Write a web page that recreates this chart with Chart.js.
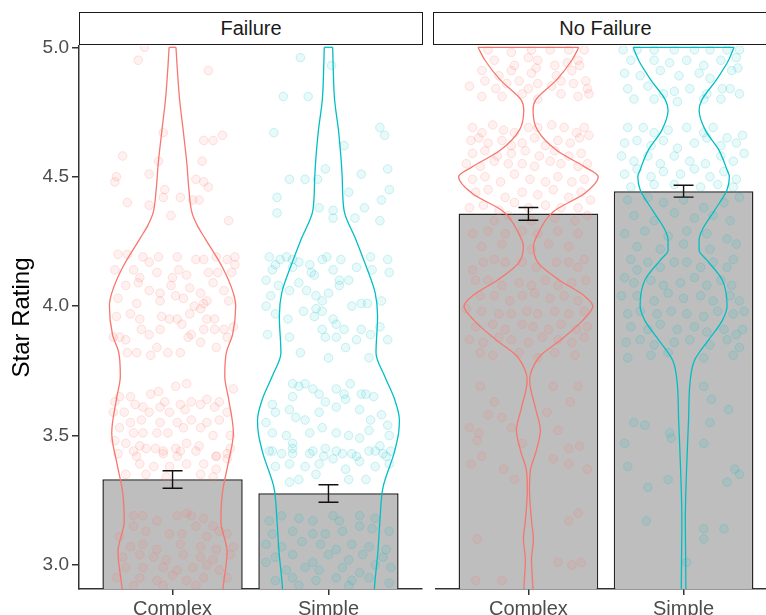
<!DOCTYPE html>
<html>
<head>
<meta charset="utf-8">
<title>Star Rating by failure</title>
<script src="https://cdn.jsdelivr.net/npm/chart.js@4.4.1/dist/chart.umd.min.js"></script>
<style>
  html, body { margin: 0; padding: 0; background: #fff; overflow: hidden; }
  body { width: 766px; height: 615px; position: relative; font-family: "Liberation Sans", Arial, Helvetica, sans-serif; }
  canvas { position: absolute; top: 0; }
  #leftChart { left: 0; }
  #rightChart { left: 430px; }
  .strip {
    position: absolute; top: 12px; height: 33px; box-sizing: border-box;
    border: 1.5px solid #1a1a1a; background: #fff;
    display: flex; align-items: center; justify-content: center;
    font-size: 20px; color: #1a1a1a;
  }
</style>
</head>
<body>
<canvas id="leftChart" width="430" height="615"></canvas>
<canvas id="rightChart" width="352" height="615"></canvas>
<div class="strip" id="stripLeft" style="left:79px;width:344px"></div>
<div class="strip" id="stripRight" style="left:433px;width:345px"></div>
<script>
"use strict";

const categories = ["Complex", "Simple"];
const panels = ["Failure", "No Failure"];
const yTicks = [3.0, 3.5, 4.0, 4.5, 5.0];

// mean star rating per group, with error bar ends
const failureMean = [3.331, 3.277];
const failureLow = [3.296, 3.242];
const failureHigh = [3.364, 3.310];
const noFailureMean = [4.358, 4.444];
const noFailureLow = [4.332, 4.421];
const noFailureHigh = [4.381, 4.467];

// violin outlines: rating level and half width (category units)
const violinFailureComplexY = [2.85, 2.94, 3.05, 3.17, 3.28, 3.39, 3.51, 3.64, 3.73, 3.82, 3.89, 4.00, 4.05, 4.15, 4.26, 4.31, 4.36, 4.45, 4.55, 4.67, 4.80, 4.93, 5.00];
const violinFailureComplexW = [0.31, 0.33, 0.35, 0.31, 0.32, 0.356, 0.39, 0.36, 0.335, 0.345, 0.385, 0.405, 0.39, 0.32, 0.21, 0.16, 0.125, 0.105, 0.092, 0.07, 0.045, 0.029, 0.022];
const violinFailureSimpleY = [2.85, 2.92, 3.05, 3.17, 3.30, 3.43, 3.51, 3.56, 3.64, 3.73, 3.82, 3.96, 4.05, 4.15, 4.26, 4.37, 4.50, 4.67, 4.80, 4.93, 5.00];
const violinFailureSimpleW = [0.29, 0.296, 0.317, 0.33, 0.35, 0.42, 0.45, 0.455, 0.424, 0.36, 0.305, 0.315, 0.30, 0.244, 0.174, 0.10, 0.088, 0.066, 0.039, 0.03, 0.027];
const violinNoFailureComplexY = [2.85, 2.906, 3.02, 3.10, 3.17, 3.29, 3.366, 3.44, 3.52, 3.60, 3.714, 3.75, 3.81, 3.87, 3.945, 4.00, 4.04, 4.10, 4.166, 4.23, 4.282, 4.365, 4.436, 4.50, 4.537, 4.60, 4.68, 4.757, 4.796, 4.873, 4.95, 5.00];
const violinNoFailureComplexW = [0.03, 0.029, 0.02, 0.032, 0.02, 0.007, 0.013, 0.05, 0.077, 0.048, 0.008, 0.02, 0.08, 0.21, 0.35, 0.415, 0.36, 0.20, 0.064, 0.032, 0.064, 0.16, 0.363, 0.45, 0.365, 0.186, 0.058, 0.03, 0.046, 0.18, 0.28, 0.325];
const violinNoFailureSimpleY = [2.85, 2.906, 3.17, 3.366, 3.56, 3.714, 3.79, 3.869, 3.945, 4.00, 4.10, 4.178, 4.216, 4.255, 4.294, 4.37, 4.45, 4.50, 4.526, 4.60, 4.68, 4.757, 4.796, 4.873, 4.95, 5.00];
const violinNoFailureSimpleW = [0.015, 0.015, 0.011, 0.019, 0.032, 0.043, 0.07, 0.16, 0.25, 0.28, 0.25, 0.15, 0.10, 0.10, 0.12, 0.20, 0.28, 0.295, 0.28, 0.23, 0.14, 0.10, 0.117, 0.21, 0.29, 0.325];

// individual ratings as [jitter, rating]
const pointsFailureComplex = [
  [-0.18,5.00],[-0.22,4.95],[0.23,4.91],
  [-0.06,4.67],[0.20,4.64],[0.26,4.64],[0.32,4.66],[-0.32,4.58],[-0.15,4.51],[0.19,4.56],[-0.09,4.56],[-0.37,4.48],[-0.36,4.50],[0.15,4.49],[0.20,4.48],[0.23,4.46],[-0.05,4.45],[-0.06,4.42],[-0.29,4.40],[0.05,4.42],[-0.15,4.39],[0.13,4.41],[0.17,4.41],[-0.01,4.35],[0.36,4.33],
  [-0.35,4.20],[-0.29,4.20],[-0.19,4.19],[-0.15,4.17],[-0.09,4.19],[0.03,4.19],[0.15,4.18],[0.20,4.18],[0.28,4.19],[0.35,4.18],[0.40,4.19],[0.40,4.16],[-0.37,4.14],[-0.25,4.14],[-0.21,4.11],[-0.10,4.13],[0.00,4.11],[0.04,4.14],[0.09,4.12],[0.23,4.13],[0.29,4.13],[0.38,4.13],
  [-0.30,4.08],[-0.22,4.09],[-0.15,4.06],[-0.08,4.05],[-0.01,4.08],[0.02,4.04],[0.11,4.07],[0.18,4.05],[0.22,4.02],[0.26,4.09],[0.33,4.06],[-0.35,4.03],[-0.23,4.01],[-0.08,4.02],[0.07,4.03],[0.14,4.00],[0.20,4.01],[0.36,4.02],
  [-0.27,3.97],[-0.21,3.95],[-0.07,3.96],[-0.02,3.95],[0.03,3.95],[0.11,3.97],[0.18,3.99],[0.22,3.95],[0.27,3.95],[0.33,3.91],[0.39,3.92],[-0.36,3.96],[-0.20,3.91],[-0.15,3.89],[-0.08,3.91],[0.06,3.93],[0.12,3.89],[0.20,3.91],[0.27,3.91],
  [-0.34,3.88],[-0.38,3.88],[-0.30,3.87],[-0.10,3.84],[-0.03,3.82],[0.05,3.82],[0.18,3.86],[0.28,3.84],[-0.29,3.82],[-0.23,3.82],[-0.14,3.81],[0.35,3.88],[0.10,3.88],
  [0.02,3.69],[0.09,3.70],[-0.14,3.66],[-0.09,3.67],[-0.34,3.65],[-0.27,3.65],[-0.37,3.63],[-0.05,3.63],[0.12,3.63],[0.22,3.64],[0.30,3.63],[0.39,3.68],[-0.24,3.62],[-0.19,3.61],[-0.08,3.61],[0.05,3.62],[0.18,3.62],[0.27,3.61],[0.35,3.59],[-0.38,3.59],[-0.31,3.59],[-0.15,3.59],[-0.02,3.59],[0.08,3.60],
  [-0.27,3.55],[-0.20,3.56],[-0.34,3.53],[-0.08,3.55],[0.03,3.55],[0.12,3.56],[0.22,3.55],[0.30,3.56],[-0.25,3.51],[-0.19,3.51],[-0.10,3.51],[-0.03,3.51],[0.07,3.53],[0.18,3.53],[0.26,3.50],[0.37,3.50],
  [-0.37,3.48],[-0.30,3.47],[-0.21,3.46],[-0.11,3.45],[-0.06,3.44],[0.02,3.45],[0.09,3.47],[0.17,3.46],[0.28,3.42],[0.35,3.43],[-0.35,3.43],[-0.23,3.42],[0.03,3.42],
  [-0.25,3.44],[-0.17,3.45],[-0.06,3.43],[0.05,3.44],[0.15,3.44],[0.28,3.42],[0.37,3.45],[-0.21,3.39],[-0.12,3.38],[-0.02,3.38],[0.09,3.39],[0.20,3.39],[0.28,3.37],[0.35,3.41],[-0.30,3.35],[-0.17,3.35],[-0.04,3.34],[0.18,3.35],[0.26,3.34],
  [-0.25,3.19],[-0.19,3.19],[-0.10,3.17],[0.03,3.19],[0.09,3.20],[0.12,3.19],[0.20,3.18],[0.26,3.15],[0.30,3.13],[-0.34,3.11],[-0.25,3.15],[-0.17,3.13],[-0.02,3.12],[0.06,3.12],[0.15,3.15],[0.22,3.11],[0.35,3.12],
  [-0.27,3.07],[-0.19,3.08],[-0.10,3.06],[0.05,3.08],[0.18,3.07],[0.28,3.06],[0.39,3.07],[-0.32,3.03],[-0.21,3.04],[-0.12,3.03],[-0.04,3.02],[0.07,3.04],[0.18,3.03],[0.26,3.02],[0.37,3.04],
  [-0.30,2.99],[-0.19,2.99],[-0.06,2.99],[0.03,2.98],[0.13,2.99],[0.22,3.00],[0.30,2.98],[-0.36,2.95],[-0.21,2.95],[-0.10,2.94],[0.00,2.96],[0.09,2.94],[0.20,2.95],[0.35,2.95],[-0.25,2.92],[-0.06,2.92],[0.15,2.92]
];
const pointsFailureSimple = [
  [-0.18,4.96],[0.02,4.93],[-0.29,4.81],[-0.13,4.81],
  [-0.35,4.67],[0.10,4.62],[0.33,4.69],[0.36,4.66],[-0.25,4.49],[-0.15,4.49],[-0.07,4.49],[-0.02,4.53],[0.21,4.51],[0.38,4.53],[-0.33,4.42],[-0.33,4.36],[-0.06,4.38],[0.03,4.37],[0.03,4.34],[0.13,4.44],[0.17,4.34],[0.23,4.38],[0.34,4.41],[0.39,4.45],[0.33,4.33],
  [-0.38,4.19],[-0.34,4.16],[-0.31,4.18],[-0.27,4.19],[-0.23,4.18],[-0.19,4.17],[-0.12,4.16],[-0.04,4.18],[-0.01,4.19],[0.08,4.18],[0.18,4.15],[0.27,4.19],[0.38,4.18],[-0.36,4.14],[-0.23,4.15],[-0.11,4.13],[-0.09,4.12],[0.03,4.14],[0.07,4.10],[0.13,4.10],[0.28,4.14],[0.39,4.13],
  [-0.40,4.10],[-0.37,4.04],[-0.32,4.08],[-0.25,4.06],[-0.19,4.09],[-0.14,4.06],[-0.08,4.04],[-0.04,4.02],[0.00,4.05],[0.07,4.08],[0.15,4.00],[0.21,4.01],[0.25,4.01],[0.34,4.02],
  [-0.40,4.00],[-0.34,3.97],[-0.26,3.95],[-0.16,3.98],[-0.08,3.99],[-0.04,3.98],[0.03,3.95],[0.05,3.93],[0.10,3.91],[0.21,3.91],[0.27,3.89],[0.33,3.92],[0.38,3.87],
  [-0.39,3.89],[-0.25,3.88],[-0.18,3.82],[-0.09,3.96],[-0.04,3.91],[-0.02,3.88],[0.00,3.80],[0.05,3.88],[0.11,3.84],[0.18,3.87],[0.26,3.80],
  [-0.23,3.70],[-0.19,3.69],[-0.15,3.70],[-0.06,3.66],[-0.02,3.63],[0.05,3.68],[0.10,3.66],[0.14,3.70],[0.21,3.66],[0.24,3.66],[0.29,3.65],[0.34,3.58],[0.38,3.54],
  [-0.36,3.62],[-0.23,3.65],[-0.10,3.68],[-0.40,3.55],[-0.34,3.59],[-0.25,3.60],[-0.21,3.57],[-0.15,3.56],[-0.06,3.59],[0.05,3.61],[0.11,3.64],[0.20,3.60],[0.27,3.56],
  [-0.36,3.51],[-0.27,3.50],[-0.23,3.47],[-0.12,3.51],[-0.04,3.53],[0.05,3.51],[0.13,3.50],[0.20,3.49],[0.26,3.52],[0.33,3.46],[0.39,3.50],
  [-0.36,3.44],[-0.23,3.43],[-0.10,3.44],[-0.02,3.45],[0.09,3.43],[0.18,3.42],[0.30,3.44],[0.37,3.42],
  [-0.38,3.44],[-0.30,3.43],[-0.23,3.45],[-0.12,3.43],[-0.03,3.42],[0.05,3.44],[0.15,3.43],[0.26,3.44],[0.35,3.43],[0.40,3.44],[-0.34,3.38],[-0.25,3.39],[-0.15,3.38],[-0.06,3.39],[0.03,3.41],[0.11,3.37],[0.20,3.40],[0.30,3.38],[0.39,3.39],[-0.25,3.32],[-0.19,3.33],[-0.08,3.35],[0.13,3.33],[0.24,3.33],
  [-0.38,3.17],[-0.30,3.19],[-0.19,3.18],[-0.10,3.17],[0.03,3.19],[0.07,3.17],[0.20,3.19],[0.30,3.18],[-0.36,3.12],[-0.23,3.13],[-0.10,3.12],[-0.02,3.12],[0.09,3.13],[0.20,3.15],[0.28,3.14],[0.39,3.13],
  [-0.40,3.08],[-0.30,3.07],[-0.17,3.09],[-0.05,3.08],[0.05,3.06],[0.15,3.08],[0.26,3.07],[0.37,3.06],[-0.34,3.03],[-0.23,3.04],[-0.10,3.01],[0.00,3.04],[0.13,3.02],[0.22,3.04],[0.35,3.03],
  [-0.40,3.01],[-0.27,2.98],[-0.15,2.99],[-0.06,2.98],[0.09,2.99],[0.20,2.97],[0.30,3.00],[0.40,2.99],[-0.34,2.94],[-0.23,2.95],[-0.08,2.94],[0.05,2.95],[0.15,2.94],[0.26,2.95],[0.39,2.93],[-0.19,2.92],[0.13,2.92]
];
const pointsNoFailureComplex = [
  [-0.26,4.99],[-0.11,4.98],[0.02,4.99],[0.14,4.99],[0.26,4.99],[0.36,4.99],[-0.22,4.95],[-0.09,4.93],[0.00,4.96],[0.06,4.95],[0.17,4.93],[0.25,4.94],[0.32,4.95],[-0.30,4.91],[-0.19,4.89],[-0.11,4.91],[0.02,4.90],[0.05,4.92],[0.18,4.89],[0.28,4.91],[0.33,4.93],
  [-0.38,4.85],[-0.28,4.87],[-0.21,4.84],[-0.14,4.86],[-0.06,4.87],[0.00,4.84],[0.06,4.86],[0.15,4.85],[0.21,4.87],[0.29,4.86],[0.37,4.87],[0.39,4.82],[-0.30,4.81],[-0.17,4.81],[-0.04,4.82],[0.06,4.80],[0.21,4.82],[0.32,4.81],[0.38,4.84],
  [-0.36,4.69],[-0.30,4.67],[-0.23,4.70],[-0.16,4.68],[-0.09,4.67],[0.00,4.69],[0.06,4.69],[0.15,4.70],[0.23,4.69],[0.31,4.67],[0.36,4.69],[-0.37,4.64],[-0.32,4.65],[-0.26,4.63],[-0.17,4.64],[-0.11,4.62],[-0.04,4.63],[0.04,4.65],[0.11,4.62],[0.19,4.64],[0.27,4.63],[0.33,4.65],[0.39,4.66],
  [-0.36,4.59],[-0.28,4.60],[-0.20,4.58],[-0.11,4.59],[-0.02,4.60],[0.07,4.58],[0.17,4.60],[0.26,4.58],[0.34,4.59],
  [-0.40,4.55],[-0.31,4.54],[-0.22,4.56],[-0.13,4.55],[-0.04,4.55],[0.04,4.54],[0.14,4.56],[0.21,4.55],[0.32,4.54],[0.38,4.55],[-0.36,4.49],[-0.28,4.50],[-0.18,4.48],[-0.09,4.51],[0.01,4.49],[0.11,4.48],[0.19,4.50],[0.28,4.48],[0.36,4.49],
  [-0.34,4.44],[-0.26,4.45],[-0.15,4.42],[-0.04,4.44],[0.06,4.43],[0.16,4.45],[0.26,4.42],[0.34,4.44],[0.40,4.41],[-0.38,4.38],[-0.29,4.39],[-0.19,4.37],[-0.09,4.40],[0.00,4.38],[0.11,4.39],[0.21,4.38],[0.32,4.38],
  [-0.22,4.33],[-0.13,4.35],[0.02,4.33],[0.17,4.34],[0.30,4.33],[0.38,4.35],[-0.36,4.28],[-0.26,4.29],[-0.15,4.28],[-0.04,4.29],[0.06,4.28],[0.19,4.29],[0.32,4.28],[-0.30,4.23],[-0.17,4.24],[0.02,4.22],[0.13,4.24],[0.26,4.23],
  [-0.36,4.14],[-0.29,4.17],[-0.22,4.18],[-0.15,4.17],[-0.04,4.17],[0.05,4.15],[0.18,4.17],[0.26,4.17],[0.32,4.15],[0.36,4.18],[-0.34,4.10],[-0.26,4.10],[-0.17,4.08],[-0.06,4.09],[0.02,4.08],[0.11,4.10],[0.19,4.08],[0.28,4.09],[0.37,4.10],
  [-0.31,4.04],[-0.22,4.04],[-0.12,4.02],[-0.04,4.04],[0.04,4.05],[0.14,4.03],[0.23,4.04],[0.32,4.02],[-0.40,3.99],[-0.30,3.98],[-0.19,3.97],[-0.11,3.97],[-0.01,3.98],[0.06,3.97],[0.17,3.98],[0.26,3.97],[0.36,3.98],
  [-0.34,3.92],[-0.23,3.93],[-0.15,3.91],[-0.04,3.93],[0.03,3.92],[0.13,3.91],[0.21,3.93],[0.31,3.91],[0.38,3.92],[-0.38,3.87],[-0.29,3.86],[-0.19,3.88],[-0.11,3.87],[0.00,3.86],[0.09,3.88],[0.19,3.87],[0.28,3.86],[0.36,3.88],
  [-0.31,3.82],[-0.23,3.81],[-0.06,3.82],[0.06,3.80],[0.17,3.82],[0.30,3.81],
  [-0.31,3.69],[-0.22,3.63],[-0.26,3.58],[-0.38,3.53],[-0.32,3.51],[-0.33,3.48],[-0.30,3.42],[-0.37,3.39],[-0.16,3.37],[-0.17,3.57],[-0.11,3.53],[-0.04,3.47],[0.12,3.59],[0.19,3.52],[0.16,3.41],[0.26,3.45],[0.33,3.46],[0.26,3.39],[0.38,3.37],[0.32,3.69],[0.16,3.69],[0.27,3.63],
  [-0.09,3.33],[0.32,3.20],[0.26,3.17],[-0.33,3.10],[0.19,3.01],[0.28,3.00],[0.34,3.01],[-0.34,2.94],[-0.17,2.94]
];
const pointsNoFailureSimple = [
  [-0.39,4.99],[-0.30,4.99],[-0.19,4.99],[-0.06,4.99],[0.07,4.99],[0.17,4.99],[0.28,4.99],[0.36,4.99],[-0.34,4.95],[-0.19,4.95],[-0.09,4.94],[0.02,4.95],[0.13,4.93],[0.24,4.95],[0.34,4.96],
  [-0.38,4.90],[-0.28,4.89],[-0.15,4.91],[-0.03,4.89],[0.10,4.90],[0.17,4.88],[0.31,4.91],[0.35,4.92],[-0.36,4.84],[-0.23,4.85],[-0.13,4.82],[-0.06,4.83],[0.04,4.84],[0.15,4.82],[0.25,4.84],[0.30,4.84],[0.36,4.82],[-0.32,4.80],[-0.19,4.80],[-0.04,4.79],[0.13,4.80],[0.24,4.80],
  [-0.36,4.69],[-0.26,4.69],[-0.19,4.67],[-0.10,4.68],[0.02,4.69],[0.13,4.67],[0.19,4.69],[0.28,4.65],[0.38,4.66],[-0.38,4.63],[-0.30,4.64],[-0.21,4.62],[-0.13,4.64],[-0.04,4.61],[0.07,4.63],[0.15,4.65],[0.24,4.62],[0.34,4.63],
  [-0.40,4.58],[-0.32,4.56],[-0.23,4.58],[-0.15,4.55],[-0.06,4.58],[0.04,4.56],[0.14,4.55],[0.24,4.58],[0.32,4.56],[0.39,4.59],[-0.38,4.51],[-0.30,4.53],[-0.21,4.50],[-0.13,4.52],[-0.02,4.51],[0.07,4.53],[0.17,4.50],[0.26,4.52],[0.34,4.49],
  [-0.34,4.46],[-0.19,4.47],[-0.06,4.47],[0.11,4.46],[0.22,4.47],[0.32,4.46],[-0.36,4.41],[-0.23,4.42],[-0.13,4.40],[0.00,4.41],[0.13,4.38],[0.26,4.40],[0.36,4.42],[-0.32,4.35],[-0.19,4.33],[-0.06,4.36],[0.07,4.34],[0.19,4.35],[0.30,4.33],
  [-0.38,4.28],[-0.25,4.29],[-0.10,4.27],[0.02,4.29],[0.15,4.28],[0.28,4.26],[-0.30,4.23],[-0.15,4.22],[0.00,4.24],[0.17,4.22],[0.34,4.24],
  [-0.34,4.18],[-0.30,4.14],[-0.23,4.17],[-0.15,4.15],[-0.06,4.17],[0.02,4.17],[0.11,4.15],[0.19,4.17],[0.28,4.15],[0.32,4.18],[-0.38,4.11],[-0.32,4.09],[-0.21,4.10],[-0.13,4.08],[-0.02,4.09],[0.07,4.11],[0.15,4.08],[0.24,4.10],[0.31,4.08],
  [-0.40,4.04],[-0.30,4.04],[-0.19,4.02],[-0.10,4.05],[0.00,4.03],[0.11,4.04],[0.19,4.02],[0.30,4.04],[0.36,4.02],[-0.36,3.97],[-0.28,3.98],[-0.17,3.97],[-0.08,3.98],[0.02,3.97],[0.13,3.96],[0.22,3.98],[0.32,3.97],[0.39,3.98],
  [-0.34,3.92],[-0.23,3.91],[-0.15,3.93],[-0.04,3.91],[0.07,3.92],[0.15,3.90],[0.26,3.91],[0.34,3.89],[0.38,3.91],[-0.37,3.86],[-0.28,3.87],[-0.19,3.85],[-0.06,3.86],[0.04,3.87],[0.17,3.85],[0.28,3.87],[0.36,3.84],
  [-0.36,3.80],[-0.21,3.81],[-0.10,3.82],[0.13,3.80],[0.32,3.81],
  [0.13,3.69],[0.18,3.64],[0.29,3.60],[-0.32,3.55],[-0.25,3.54],[-0.38,3.47],[-0.36,3.38],[-0.09,3.51],[-0.08,3.49],[0.13,3.47],[0.17,3.55],[0.33,3.37],[0.36,3.35],[-0.23,3.30],[-0.10,3.33],[0.28,3.32],[0.13,3.14],[0.13,3.10],[0.26,3.14],[-0.24,3.17],[0.02,3.01]
];

const FONT = '"Liberation Sans", Arial, Helvetica, sans-serif';
const groupColors = ["#F8766D", "#00BFC4"];
const pointFill = ["rgba(248,118,109,0.10)", "rgba(0,191,196,0.09)"];
const pointLine = ["rgba(248,118,109,0.20)", "rgba(0,191,196,0.20)"];

Chart.defaults.font.family = FONT;

// one side of a violin, rating ascending, drawn with a y-indexed monotone curve
function violinSide(center, ys, ws, sign) {
  return ys.map((y, i) => ({ x: center + sign * ws[i], y }));
}

function errorPath(center, lo, hi) {
  const cap = 0.064;
  return [
    { x: center - cap, y: hi }, { x: center + cap, y: hi }, { x: center, y: hi },
    { x: center, y: lo }, { x: center - cap, y: lo }, { x: center + cap, y: lo }
  ];
}

function panelDatasets(means, lows, highs, violins, points) {
  const sets = [{
    type: "bar",
    data: means.map((m, i) => ({ x: i + 1, y: m })),
    backgroundColor: "#bebebe",
    borderColor: "#262626",
    borderWidth: 1.5,
    barPercentage: 0.9,
    categoryPercentage: 1.0,
    order: 5
  }];
  categories.forEach((c, i) => {
    const [vy, vw] = violins[i];
    sets.push({
      type: "scatter",
      data: points[i].map(([dx, r]) => ({ x: i + 1 + dx, y: r })),
      pointRadius: 4.3,
      pointBorderWidth: 1,
      backgroundColor: pointFill[i],
      borderColor: pointLine[i],
      order: 4
    });
    [-1, 1].forEach(sign => {
      sets.push({
        type: "line",
        indexAxis: "y",
        data: violinSide(i + 1, vy, vw, sign),
        borderColor: groupColors[i],
        borderWidth: 1.3,
        pointRadius: 0,
        cubicInterpolationMode: "monotone",
        fill: false,
        order: 3
      });
    });
    const top = vy.length - 1;
    sets.push({
      type: "line",
      data: [{ x: i + 1 - vw[top], y: vy[top] }, { x: i + 1 + vw[top], y: vy[top] }],
      borderColor: groupColors[i],
      borderWidth: 1.3,
      pointRadius: 0,
      fill: false,
      order: 3
    });
    sets.push({
      type: "line",
      data: errorPath(i + 1, lows[i], highs[i]),
      borderColor: "#111",
      borderWidth: 1.4,
      pointRadius: 0,
      tension: 0,
      fill: false,
      order: 1
    });
  });
  return sets;
}

function panelOptions(showY, padding) {
  return {
    responsive: false,
    animation: false,
    devicePixelRatio: 1,
    layout: { padding },
    plugins: { legend: { display: false }, tooltip: { enabled: false } },
    scales: {
      x: {
        type: "linear", min: 0.4, max: 2.6, offset: false,
        afterBuildTicks: s => { s.ticks = categories.map((c, i) => ({ value: i + 1 })); },
        afterFit: s => { s.height = 26; },
        ticks: {
          callback: v => categories[v - 1], autoSkip: false, maxRotation: 0,
          padding: 2, color: "#4d4d4d", font: { size: 20 }
        },
        grid: { drawOnChartArea: false, drawTicks: true, tickLength: 6, color: "#333", lineWidth: 1.5, offset: false },
        border: { display: true, color: "#333", width: 1.5 }
      },
      y: {
        type: "linear", display: showY, min: 2.907, max: 5.005,
        afterBuildTicks: s => { s.ticks = yTicks.map(v => ({ value: v })); },
        afterFit: s => { s.width = showY ? 79 : 0; },
        ticks: { callback: v => v.toFixed(1), padding: 3, color: "#4d4d4d", font: { size: 19 } },
        grid: { drawOnChartArea: false, drawTicks: true, tickLength: 7, color: "#333", lineWidth: 1.5 },
        border: { display: true, color: "#333", width: 1.5 },
        title: { display: true, text: "Star Rating", color: "#000", font: { size: 24 }, padding: { top: 8, bottom: 0 } }
      }
    }
  };
}

document.getElementById("stripLeft").textContent = panels[0];
document.getElementById("stripRight").textContent = panels[1];

new Chart(document.getElementById("leftChart"), {
  type: "scatter",
  data: {
    datasets: panelDatasets(failureMean, failureLow, failureHigh,
      [[violinFailureComplexY, violinFailureComplexW], [violinFailureSimpleY, violinFailureSimpleW]],
      [pointsFailureComplex, pointsFailureSimple])
  },
  options: panelOptions(true, { top: 46, right: 8, left: 0, bottom: 0 })
});

new Chart(document.getElementById("rightChart"), {
  type: "scatter",
  data: {
    datasets: panelDatasets(noFailureMean, noFailureLow, noFailureHigh,
      [[violinNoFailureComplexY, violinNoFailureComplexW], [violinNoFailureSimpleY, violinNoFailureSimpleW]],
      [pointsNoFailureComplex, pointsNoFailureSimple])
  },
  options: panelOptions(false, { top: 46, right: 5, left: 3, bottom: 0 })
});
</script>
</body>
</html>
